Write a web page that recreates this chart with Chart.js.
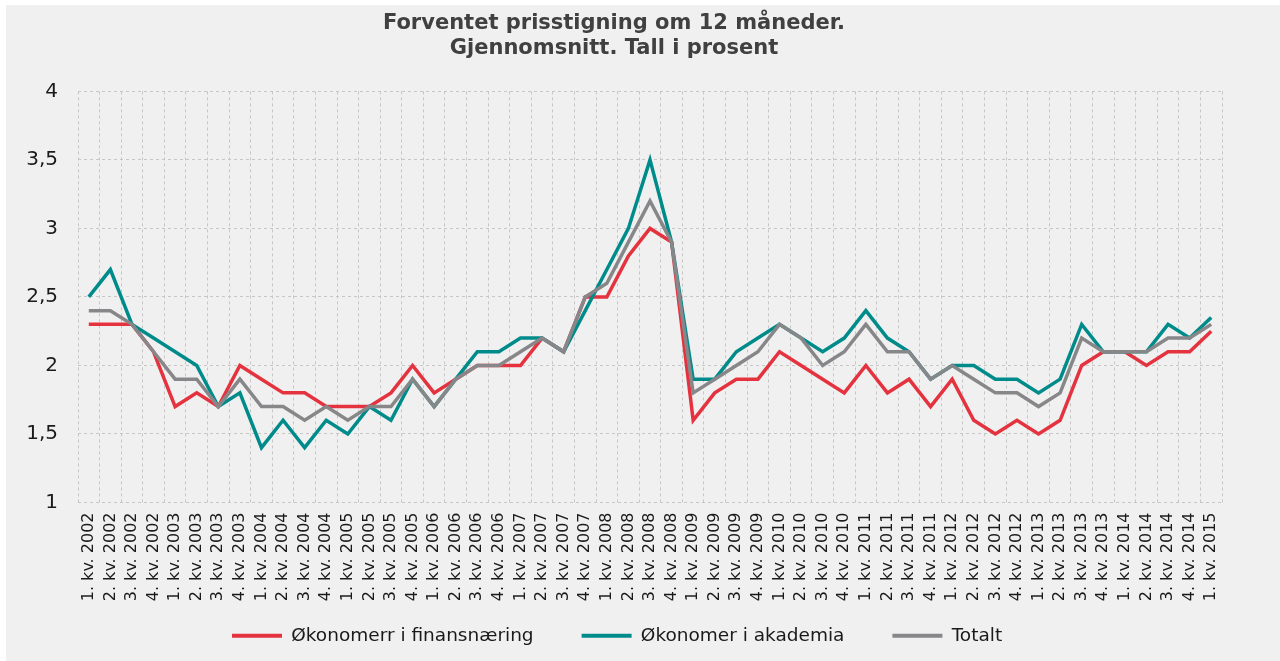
<!DOCTYPE html>
<html>
<head>
<meta charset="utf-8">
<script src="https://cdn.jsdelivr.net/npm/chart.js@4/dist/chart.umd.min.js"></script>
<style>
  html, body { margin: 0; padding: 0; background: #ffffff; }
  #wrap { position: absolute; left: 6px; top: 5px; width: 1274px; height: 656px; background: #f0f0f0; }
  canvas { display: block; }
</style>
</head>
<body>
<div id="wrap"><canvas id="c"></canvas></div>
<script>
const categories = [
  "1. kv. 2002","2. kv. 2002","3. kv. 2002","4. kv. 2002",
  "1. kv. 2003","2. kv. 2003","3. kv. 2003","4. kv. 2003",
  "1. kv. 2004","2. kv. 2004","3. kv. 2004","4. kv. 2004",
  "1. kv. 2005","2. kv. 2005","3. kv. 2005","4. kv. 2005",
  "1. kv. 2006","2. kv. 2006","3. kv. 2006","4. kv. 2006",
  "1. kv. 2007","2. kv. 2007","3. kv. 2007","4. kv. 2007",
  "1. kv. 2008","2. kv. 2008","3. kv. 2008","4. kv. 2008",
  "1. kv. 2009","2. kv. 2009","3. kv. 2009","4. kv. 2009",
  "1. kv. 2010","2. kv. 2010","3. kv. 2010","4. kv. 2010",
  "1. kv. 2011","2. kv. 2011","3. kv. 2011","4. kv. 2011",
  "1. kv. 2012","2. kv. 2012","3. kv. 2012","4. kv. 2012",
  "1. kv. 2013","2. kv. 2013","3. kv. 2013","4. kv. 2013",
  "1. kv. 2014","2. kv. 2014","3. kv. 2014","4. kv. 2014",
  "1. kv. 2015"
];

const finans = [
  2.3, 2.3, 2.3, 2.1,
  1.7, 1.8, 1.7, 2.0,
  1.9, 1.8, 1.8, 1.7,
  1.7, 1.7, 1.8, 2.0,
  1.8, 1.9, 2.0, 2.0,
  2.0, 2.2, 2.1, 2.5,
  2.5, 2.8, 3.0, 2.9,
  1.6, 1.8, 1.9, 1.9,
  2.1, 2.0, 1.9, 1.8,
  2.0, 1.8, 1.9, 1.7,
  1.9, 1.6, 1.5, 1.6,
  1.5, 1.6, 2.0, 2.1,
  2.1, 2.0, 2.1, 2.1,
  2.25
];

const akademia = [
  2.5, 2.7, 2.3, 2.2,
  2.1, 2.0, 1.7, 1.8,
  1.4, 1.6, 1.4, 1.6,
  1.5, 1.7, 1.6, 1.9,
  1.7, 1.9, 2.1, 2.1,
  2.2, 2.2, 2.1, 2.4,
  2.7, 3.0, 3.5, 2.9,
  1.9, 1.9, 2.1, 2.2,
  2.3, 2.2, 2.1, 2.2,
  2.4, 2.2, 2.1, 1.9,
  2.0, 2.0, 1.9, 1.9,
  1.8, 1.9, 2.3, 2.1,
  2.1, 2.1, 2.3, 2.2,
  2.35
];

const totalt = [
  2.4, 2.4, 2.3, 2.1,
  1.9, 1.9, 1.7, 1.9,
  1.7, 1.7, 1.6, 1.7,
  1.6, 1.7, 1.7, 1.9,
  1.7, 1.9, 2.0, 2.0,
  2.1, 2.2, 2.1, 2.5,
  2.6, 2.9, 3.2, 2.9,
  1.8, 1.9, 2.0, 2.1,
  2.3, 2.2, 2.0, 2.1,
  2.3, 2.1, 2.1, 1.9,
  2.0, 1.9, 1.8, 1.8,
  1.7, 1.8, 2.2, 2.1,
  2.1, 2.1, 2.2, 2.2,
  2.3
];

const seriesNames = ["Økonomerr i finansnæring", "Økonomer i akademia", "Totalt"];
const titleLines = ["Forventet prisstigning om 12 måneder.", "Gjennomsnitt. Tall i prosent"];
const yMin = 1, yMax = 4, yStep = 0.5;

const RED = "#e5323f", TEAL = "#008b8b", GRAY = "#87878a";
const FONT = "'DejaVu Sans', Verdana, sans-serif";
const gridCol = "#c6c6c6";

const canvas = document.getElementById('c');
canvas.width = 1274; canvas.height = 656;
canvas.style.width = '1274px'; canvas.style.height = '656px';

function ds(label, data, color, order) {
  return {
    label, data, order,
    borderColor: color, backgroundColor: color,
    borderWidth: 3.5, pointRadius: 0, pointHoverRadius: 0,
    tension: 0, fill: false, borderJoinStyle: 'miter', borderCapStyle: 'butt'
  };
}

// layout helpers: place the legend where the original one starts, and let the
// rotated category labels draw below the (short) x-axis box without clipping
const layoutTweaks = {
  id: 'layoutTweaks',
  beforeDraw(chart) {
    const L = chart.legend;
    if (L && L.lineWidths) {
      const pad = L.options.labels.padding;
      const cur = (L.left + pad + L.right - L.lineWidths[0]) / 2;
      const dx = 226 - cur;
      L.left += dx; L.right += dx;
    }
    if (chart.scales.x) chart.scales.x.bottom = chart.height;
  }
};

new Chart(canvas, {
  type: 'line',
  data: {
    labels: categories,
    datasets: [
      ds(seriesNames[0], finans, RED, 2),
      ds(seriesNames[1], akademia, TEAL, 1),
      ds(seriesNames[2], totalt, GRAY, 0)
    ]
  },
  options: {
    responsive: false,
    animation: false,
    devicePixelRatio: 1,
    layout: { padding: { left: 0, right: 58, top: 6, bottom: 6 } },
    plugins: {
      tooltip: { enabled: false },
      title: {
        display: true,
        text: titleLines,
        color: "#404040",
        font: { family: FONT, size: 21, weight: 'bold', lineHeight: 1.2 },
        padding: { top: 0, bottom: 30 }
      },
      legend: {
        position: 'bottom',
        labels: {
          color: "#1a1a1a",
          font: { family: FONT, size: 18.5 },
          boxWidth: 50, boxHeight: 4,
          padding: 48,
          sort: (a, b) => a.datasetIndex - b.datasetIndex,
          generateLabels(chart) {
            const items = Chart.defaults.plugins.legend.labels.generateLabels(chart);
            items.forEach(it => { it.lineWidth = 0; it.strokeStyle = 'rgba(0,0,0,0)'; });
            return items;
          }
        }
      }
    },
    scales: {
      x: {
        offset: true,
        grid: { offset: true, color: gridCol, lineWidth: 1, drawTicks: false },
        border: { display: false, dash: [3, 3] },
        ticks: {
          color: "#1a1a1a",
          font: { family: FONT, size: 16 },
          minRotation: 90, maxRotation: 90, autoSkip: false, padding: 10
        },
        afterFit(scale) { scale.height = 76; }
      },
      y: {
        min: yMin, max: yMax,
        grid: { color: gridCol, lineWidth: 1, drawTicks: false },
        border: { display: false, dash: [3, 3] },
        ticks: {
          stepSize: yStep,
          color: "#1a1a1a",
          font: { family: FONT, size: 20 },
          padding: 20,
          callback: (v) => String(v).replace('.', ',')
        },
        afterFit(scale) { scale.width = 72; }
      }
    }
  },
  plugins: [layoutTweaks]
});
</script>
</body>
</html>
